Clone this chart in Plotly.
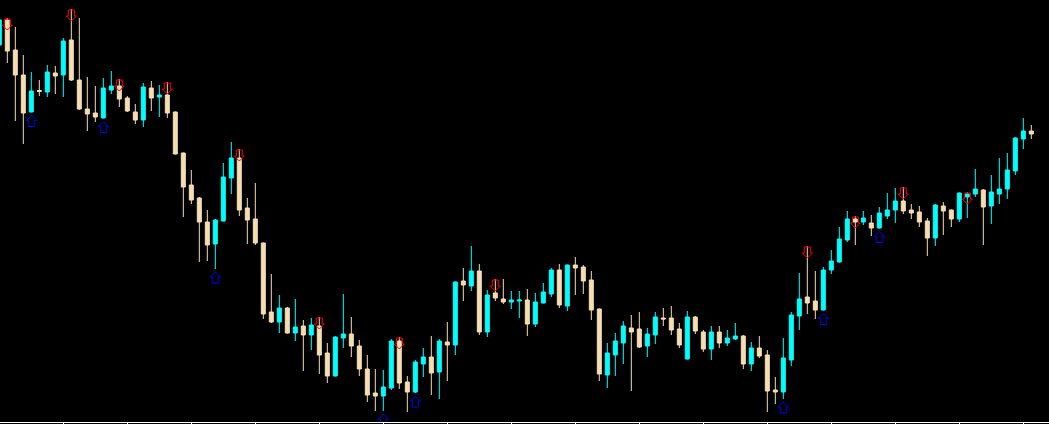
import plotly.graph_objects as go

# OHLC values (arbitrary price units)
open_ = [455, 480, 450, 425, 388, 409.5, 408, 427, 425, 460,
         420, 391, 387, 382, 410, 414, 402, 388, 380, 412,
         403, 405, 388, 347, 315, 302, 278, 256, 279, 322,
         342, 292, 281, 257, 188, 178, 192, 167, 174, 165,
         174, 147, 124, 162, 166, 154, 131, 107, 104, 112,
         159, 118, 108, 136, 143, 128, 158, 155, 219, 214,
         229, 168, 207, 201, 198, 199, 200, 176, 197, 206,
         230, 194, 235, 233, 220, 191, 125, 145, 157, 172,
         171, 154, 165, 182, 182, 171, 141, 183, 168, 151,
         168, 157, 161, 164, 136, 152, 145, 110, 108, 140,
         184, 203, 199, 190, 230, 238, 260, 281, 278, 277,
         272, 284, 290, 299, 290, 288, 279, 262, 294, 290,
         281, 303, 306, 310, 294, 306, 311, 329, 361, 369]
high = [482, 482, 473, 445, 428, 420, 435, 434, 462, 491,
        482, 423, 414, 422, 429, 421, 404, 396, 417, 419,
        415, 418, 388.5, 347.5, 330, 303, 290, 281, 337, 358,
        351, 302, 317, 257.5, 226, 205, 193, 201, 180, 182,
        183, 157, 164, 206, 183, 160, 145, 131, 130, 161,
        163, 124, 140, 152, 164, 161, 178, 218.5, 232, 254,
        236, 210, 221, 221, 209, 209, 211, 207, 217, 232,
        236, 235.5, 243, 235, 229, 191.5, 157, 167, 179, 185,
        188, 172, 188, 192, 194, 177, 189, 184, 170, 174,
        174, 170, 177, 165, 158, 164, 150, 123, 162, 188,
        227, 254, 229, 233, 250, 273, 289, 284, 289, 285,
        293, 307, 312, 313, 296, 294, 282, 296, 298, 290.5,
        307.5, 308, 331, 311, 325, 342, 347, 363, 382, 375]
low = [453, 437, 379, 356, 387.5, 404, 403, 406, 403, 419,
       390, 369, 378, 381.5, 406, 393, 388, 376, 373, 389,
       383, 382, 345.5, 283, 296, 238, 239, 231, 278.5, 306,
       284, 256, 255, 181, 177, 167, 166.5, 159, 129, 150,
       126, 117, 123.5, 152, 143, 124, 98, 89, 89, 110,
       111, 88, 107, 123, 105, 101, 119, 145, 199, 209,
       165, 163, 199, 196, 191, 182, 164, 173, 196.5, 203,
       192, 189, 205, 206, 180, 119, 112, 124, 136, 109,
       152, 143, 156, 174, 165, 152, 140.5, 166, 148, 140,
       152, 154, 160, 131, 129, 142, 88, 96, 101, 134,
       170, 186, 181, 189.5, 226, 237.5, 258, 255, 275, 264,
       271.5, 281, 277, 286, 281, 273, 244, 254, 265, 273,
       278, 282, 303, 255, 276, 296, 301, 325, 351, 361]
close = [480, 449, 425, 387, 409, 408.5, 428, 424, 459, 420,
         391, 386, 383, 412, 414, 401, 389, 380, 413, 402,
         405, 387, 346, 313, 300, 278, 255, 280, 323, 342,
         290, 280, 257, 186, 178, 192, 167, 173, 165, 175,
         145, 124, 163, 166, 154, 131, 105, 104, 113, 159,
         117, 108, 138, 143, 127, 159, 155, 218, 215, 229,
         168, 205, 202, 198, 200, 200, 176, 198, 208, 230,
         195, 235, 232, 219, 190, 126, 147, 159, 174, 168,
         153, 166, 183, 181, 170, 155, 183, 169, 151, 168,
         157, 162, 164, 136, 152, 144, 109, 108, 142, 185,
         201, 197, 190, 230, 239, 261, 281, 278, 282, 272,
         287, 290, 299, 289, 287, 278, 262, 295, 289, 281,
         307, 306, 311, 293, 308, 311, 330, 362, 369, 366]

# bars carrying signal arrows
arrow_down_bars = [1, 9, 15, 21, 30, 40, 50, 62, 101, 107, 113, 121]
arrow_up_bars = [4, 13, 27, 48, 52, 98, 103, 110]

# tick marks every 8 bars
tick_bars = list(range(8, 130, 8))

n = len(open_)
bars = list(range(n))

UP = "#00FFFF"
DOWN = "#F5DEB3"
BAR_PX = 8.0  # pixels per bar (for arrow glyph geometry)

# hollow arrow glyph outline, (dx px, dy px) relative to tip-side reference
DOWN_GLYPH = [(-3, 0), (3, 0), (3, 6), (5, 6), (0, 11), (-5, 6), (-3, 6), (-3, 0)]
UP_GLYPH = [(0, 0), (5, 5), (3, 5), (3, 11), (-3, 11), (-3, 5), (-5, 5), (0, 0)]


def glyph_path(bar_list, anchor_vals, glyph, gap):
    xs, ys = [], []
    for b in bar_list:
        top = anchor_vals[b] - gap
        for dx, dy in glyph:
            xs.append(b + dx / BAR_PX)
            ys.append(top - dy)
        xs.append(None)
        ys.append(None)
    return xs, ys


fig = go.Figure()
fig.add_trace(go.Candlestick(
    x=bars, open=open_, high=high, low=low, close=close,
    increasing=dict(line=dict(color=UP, width=1), fillcolor=UP),
    decreasing=dict(line=dict(color=DOWN, width=1), fillcolor=DOWN),
    whiskerwidth=0, hoverinfo="skip", showlegend=False,
))

dx_, dy_ = glyph_path(arrow_down_bars, high, DOWN_GLYPH, 1)
fig.add_trace(go.Scatter(
    x=dx_, y=dy_, mode="lines", line=dict(color="#FF0000", width=1),
    hoverinfo="skip", showlegend=False,
))
ux_, uy_ = glyph_path(arrow_up_bars, low, UP_GLYPH, 3)
fig.add_trace(go.Scatter(
    x=ux_, y=uy_, mode="lines", line=dict(color="#0000FF", width=1),
    hoverinfo="skip", showlegend=False,
))

fig.update_layout(
    width=1049, height=424,
    margin=dict(l=0, r=0, t=0, b=2, pad=0),
    paper_bgcolor="black", plot_bgcolor="black",
    boxgap=0.5, boxgroupgap=0,
    showlegend=False,
    xaxis=dict(
        range=[0.0875, 131.2125], showgrid=False, zeroline=False,
        showline=True, linecolor="white", linewidth=1,
        ticks="outside", ticklen=2, tickwidth=1, tickcolor="white",
        tickmode="array", tickvals=tick_bars, showticklabels=False,
        rangeslider=dict(visible=False), fixedrange=True,
    ),
    yaxis=dict(
        range=[78, 500], visible=False, showgrid=False, zeroline=False,
        fixedrange=True,
    ),
)

fig.write_html(
    "out.html",
    config={"displayModeBar": False},
    post_script="document.body.style.margin='0';document.body.style.background='black';",
)
